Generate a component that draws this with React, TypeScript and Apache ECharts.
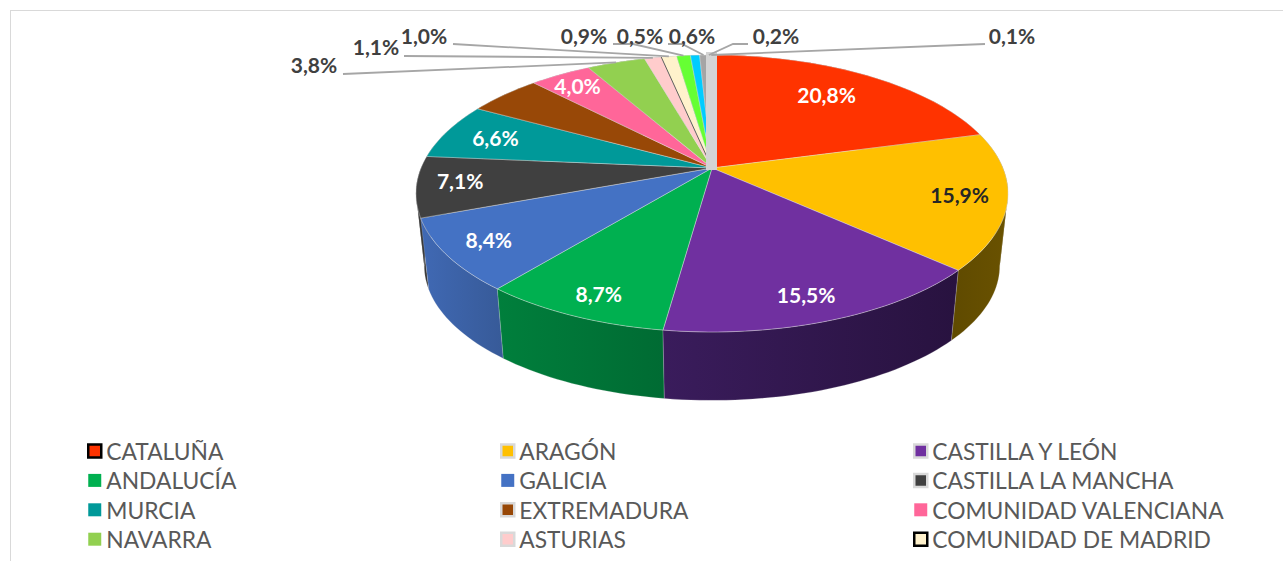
import React, { useEffect, useRef } from "react";
import * as echarts from "echarts";

const CATEGORIES = [
  "CATALUÑA", "ARAGÓN", "CASTILLA Y LEÓN", "ANDALUCÍA", "GALICIA", "CASTILLA LA MANCHA",
  "MURCIA", "EXTREMADURA", "COMUNIDAD VALENCIANA", "NAVARRA", "ASTURIAS", "COMUNIDAD DE MADRID",
  "Otra 1", "Otra 2", "Otra 3", "Otra 4", "Otra 5",
];
const VALUES = [20.8, 15.9, 15.5, 8.7, 8.4, 7.1, 6.6, 4.8, 4.0, 3.8, 1.1, 1.0, 0.9, 0.6, 0.5, 0.2, 0.1];
const COLORS = [
  "#ff3300", "#ffc000", "#7030a0", "#00b050", "#4472c4", "#404040",
  "#009999", "#984807", "#ff6699", "#92d050", "#ffcccc", "#fff2cc",
  "#66ff33", "#00ccff", "#a5a5a5", "#d4d4d4", "#d4d4d4",
];
const SIDE_LEFT = [
  "#801a00", "#5f4a00", "#3a1c5c", "#007f3c", "#4069b4", "#303030",
  "#005c5c", "#5c2b04", "#993d5c", "#587d30", "#997a7a", "#99917a",
  "#3d991f", "#007a99", "#636363", "#808080", "#808080",
];
const SIDE_RIGHT = [
  "#801a00", "#6a5200", "#28123f", "#006b33", "#375a98", "#383838",
  "#005c5c", "#5c2b04", "#993d5c", "#587d30", "#997a7a", "#99917a",
  "#3d991f", "#007a99", "#636363", "#808080", "#808080",
];
// Legend columns, as indexes into CATEGORIES
const LEGEND_COLUMNS = [[0, 3, 6, 9], [1, 4, 7, 10], [2, 5, 8, 11]];
const LEGEND_LEFT = [87, 500, 913];
const LEGEND_BORDERS: Record<number, [string, number]> = {
  0: ["#000000", 2.5], 1: ["#d9d9d9", 2.5], 2: ["#d9d9d9", 2.5], 5: ["#d9d9d9", 2.5],
  7: ["#d9d9d9", 2.5], 10: ["#d9d9d9", 2.5], 11: ["#000000", 2.5],
};
// Which slices keep their label inside the pie, how far along the radius, and a small nudge
const INSIDE_LABEL_RADIUS: Record<number, number> = {
  0: 0.75, 1: 0.85, 2: 0.865, 3: 0.88, 4: 0.85, 5: 0.855, 6: 0.8, 8: 0.85,
};
const INSIDE_LABEL_NUDGE: Record<number, number[]> = {
  0: [-5, -2], 1: [-2, -1], 2: [-7, -1], 3: [7, -1], 4: [-2, -1], 5: [0, -3], 6: [-3, -1], 8: [-3, -1],
};
const INSIDE_LABEL_COLOR: Record<number, string> = { 1: "#262626" };
// Outside labels: centre of the text, then the leader's free end and optional elbow
const OUTSIDE_LABELS: Record<number, { at: number[]; from?: number[]; elbow?: number[] }> = {
  9: { at: [314, 64], from: [343, 74] },
  10: { at: [376, 46], from: [404, 56] },
  11: { at: [424, 35], from: [453, 44] },
  12: { at: [584, 35], from: [613, 44], elbow: [633, 44] },
  13: { at: [692, 35] },
  14: { at: [640, 35], from: [668, 44], elbow: [682, 44] },
  15: { at: [776, 35], from: [748, 44], elbow: [733, 44] },
  16: { at: [1012, 35], from: [985, 44] },
};

const FONT = "Lato, 'Noto Sans', sans-serif";
const CX = 712, CY = 168, AX = 291, BY = 133.8, T = -0.184, S = 0.972, BASE_Y = 241;
const TOTAL = VALUES.reduce((a, b) => a + b, 0);
const starts: number[] = [];
VALUES.reduce((acc, v, i) => { starts[i] = acc; return acc + v; }, 0);
const toAngle = (cum: number) => (cum / TOTAL) * Math.PI * 2;
// Angles where the rim is at its widest: the side wall's outline runs straight down from there
const SILHOUETTE = [Math.acos(T), 2 * Math.PI - Math.acos(T)];

const project = (phi: number, f = 1, base = false): number[] => {
  const u = f * Math.sin(phi), v = -f * Math.cos(phi), d = 1 + T * v;
  const x = (AX * u) / d, y = (BY * v) / d;
  return base ? [CX + S * x, BASE_Y + S * y] : [CX + x, CY + y];
};
const arc = (a: number, b: number, base = false) => {
  const n = Math.max(2, Math.ceil(((b - a) * 180) / Math.PI / 1.5));
  const pts: number[][] = [];
  for (let i = 0; i <= n; i++) pts.push(project(a + ((b - a) * i) / n, 1, base));
  return pts;
};

const makeRender = (i: number) => () => {
  const a = toAngle(starts[i]), b = toAngle(starts[i] + VALUES[i]), mid = (a + b) / 2;
  const children: any[] = [];
  const cuts = [a, ...SILHOUETTE.filter((s) => s > a && s < b), b];
  for (let c = 0; c < cuts.length - 1; c++) {
    children.push({
      type: "polygon",
      z2: 10 + Math.round(-Math.cos(mid) * 40) + 40,
      shape: { points: [...arc(cuts[c], cuts[c + 1]), ...arc(cuts[c], cuts[c + 1], true).reverse()] },
      style: {
        fill: new echarts.graphic.LinearGradient(0, 0, 1, 0, [
          { offset: 0, color: SIDE_LEFT[i] }, { offset: 1, color: SIDE_RIGHT[i] },
        ]),
        stroke: "rgba(225,225,225,0.35)", lineWidth: 0.6,
      },
    });
  }
  children.push({
    type: "polygon",
    z2: 100 + i,
    shape: { points: [[CX, CY], ...arc(a, b)] },
    style: { fill: COLORS[i], stroke: "rgba(225,225,225,0.6)", lineWidth: 0.7 },
  });
  if (i === 11) {
    const e = project(a);
    children.push({
      type: "line", z2: 130,
      shape: { x1: CX, y1: CY, x2: e[0], y2: e[1] },
      style: { stroke: "#404040", lineWidth: 0.8 },
    });
  }
  if (i === VALUES.length - 1) {
    const top = project(0)[1];
    children.push({
      type: "rect", z2: 200,
      shape: { x: CX - 6, y: top - 3, width: 11, height: CY + 2 - (top - 3) },
      style: { fill: "#d4d4d4" },
    });
  }
  const text = VALUES[i].toFixed(1).replace(".", ",") + "%";
  const inside = INSIDE_LABEL_RADIUS[i];
  if (inside) {
    const p = project(mid, inside);
    const nudge = INSIDE_LABEL_NUDGE[i] || [0, 0];
    children.push({
      type: "text", z2: 300,
      style: {
        text, x: p[0] + nudge[0], y: p[1] + nudge[1], textAlign: "center", textVerticalAlign: "middle",
        font: `bold 21px ${FONT}`, fill: INSIDE_LABEL_COLOR[i] || "#ffffff",
      },
    });
  }
  const out = OUTSIDE_LABELS[i];
  if (out) {
    children.push({
      type: "text", z2: 300,
      style: {
        text, x: out.at[0], y: out.at[1], textAlign: "center", textVerticalAlign: "middle",
        font: `bold 21px ${FONT}`, fill: "#404040",
      },
    });
    if (out.from) {
      const pts = [out.from, ...(out.elbow ? [out.elbow] : []), project(mid)];
      children.push({
        type: "polyline", z2: 250,
        shape: { points: pts },
        style: { stroke: "#a6a6a6", lineWidth: 1.8, fill: "none" },
      });
    }
  }
  return { type: "group", children };
};

export default function App() {
  const ref = useRef<HTMLDivElement>(null);
  useEffect(() => {
    document.body.style.margin = "0";
    const chart = echarts.init(ref.current!, undefined, { renderer: "svg" });
    chart.setOption({
      animation: false,
      backgroundColor: "#ffffff",
      tooltip: { show: false },
      legend: LEGEND_COLUMNS.map((col, c) => ({
        orient: "vertical",
        left: LEGEND_LEFT[c],
        top: 438,
        padding: 0,
        itemWidth: 13,
        itemHeight: 13,
        itemGap: 3.4,
        selectedMode: false,
        icon: "rect",
        textStyle: { fontFamily: FONT, fontSize: 22.8, color: "#595959", lineHeight: 26 },
        data: col.map((idx) => ({
          name: CATEGORIES[idx],
          icon: "rect",
          itemStyle: {
            color: COLORS[idx],
            borderColor: LEGEND_BORDERS[idx] ? LEGEND_BORDERS[idx][0] : COLORS[idx],
            borderWidth: LEGEND_BORDERS[idx] ? LEGEND_BORDERS[idx][1] : 0,
          },
        })),
      })),
      graphic: [
        { type: "line", silent: true, shape: { x1: 10.5, y1: 10, x2: 10.5, y2: 561 }, style: { stroke: "#d9d9d9", lineWidth: 1 } },
        { type: "line", silent: true, shape: { x1: 10, y1: 10.5, x2: 1283, y2: 10.5 }, style: { stroke: "#d9d9d9", lineWidth: 1 } },
      ],
      series: VALUES.map((v, i) => ({
        type: "custom",
        name: CATEGORIES[i],
        coordinateSystem: "none",
        silent: true,
        itemStyle: { color: COLORS[i] },
        data: [v],
        renderItem: makeRender(i),
      })),
    });
    return () => chart.dispose();
  }, []);
  return <div ref={ref} style={{ width: 1283, height: 561 }} />;
}
